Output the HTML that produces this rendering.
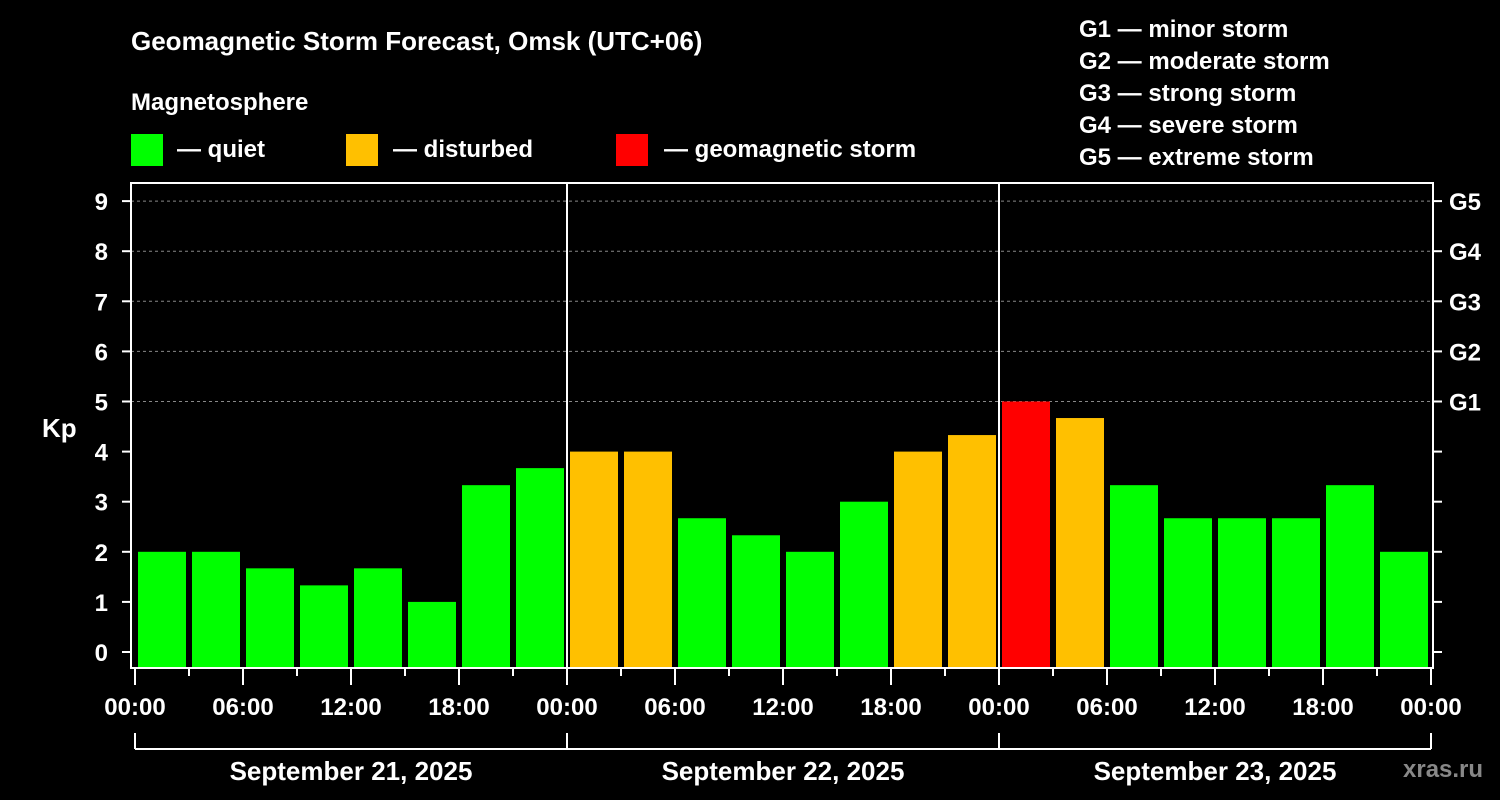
<!DOCTYPE html>
<html><head><meta charset="utf-8"><style>
html,body{margin:0;padding:0;background:#000;}
svg{display:block;font-family:"Liberation Sans",Arial,sans-serif;font-weight:bold;}
</style></head><body>
<svg id="chart" width="1500" height="800" xmlns="http://www.w3.org/2000/svg">
<text x="131" y="50" fill="#fff" font-size="26">Geomagnetic Storm Forecast, Omsk (UTC+06)</text>
<text x="131" y="110" fill="#fff" font-size="24">Magnetosphere</text>
<g><rect x="131" y="134" width="32" height="32" fill="#00ff00"/><text x="177" y="157" fill="#fff" font-size="24">— quiet</text></g>
<g><rect x="346" y="134" width="32" height="32" fill="#ffc000"/><text x="393" y="157" fill="#fff" font-size="24">— disturbed</text></g>
<g><rect x="616" y="134" width="32" height="32" fill="#ff0000"/><text x="664" y="157" fill="#fff" font-size="24">— geomagnetic storm</text></g>
<g fill="#fff" font-size="24">
<text x="1079" y="37">G1 — minor storm</text><text x="1079" y="69">G2 — moderate storm</text><text x="1079" y="101">G3 — strong storm</text><text x="1079" y="133">G4 — severe storm</text><text x="1079" y="165">G5 — extreme storm</text>
</g>
<text x="42" y="437" fill="#fff" font-size="26">Kp</text>
<text x="1403" y="777" fill="#888" font-size="24">xras.ru</text>
<g id="grid"></g><g id="bars"></g><g id="axes"></g>
</svg>
<script>
const kpValues=[2,2,1.67,1.33,1.67,1,3.33,3.67, 4,4,2.67,2.33,2,3,4,4.33, 5,4.67,3.33,2.67,2.67,2.67,3.33,2];
const dayLabels=["September 21, 2025","September 22, 2025","September 23, 2025"];
const hourLabels=["00:00","06:00","12:00","18:00"];
const yTicks=[0,1,2,3,4,5,6,7,8,9];
const gLabels=["G1","G2","G3","G4","G5"];
const NS="http://www.w3.org/2000/svg";
const X0=135,DAYW=432,TOP=183,BOT=668,LEFT=131,RIGHT=1433;
const yScale=v=>652-v*50.1;
const xScale=i=>X0+i*(DAYW/8);
function mk(tag,attrs,parent,txt){const e=document.createElementNS(NS,tag);for(const k in attrs)e.setAttribute(k,attrs[k]);if(txt!==undefined)e.textContent=txt;parent.appendChild(e);return e;}
const grid=document.getElementById('grid'),bars=document.getElementById('bars'),axes=document.getElementById('axes');
yTicks.forEach(v=>{
 if(v>=5){const l=mk('line',{x1:LEFT,x2:RIGHT,y1:yScale(v),y2:yScale(v),stroke:'#888','stroke-dasharray':'3,3','stroke-width':1},grid);
 
 }
 mk('line',{x1:122,x2:LEFT,y1:yScale(v),y2:yScale(v),stroke:'#fff','stroke-width':2},axes);
 mk('line',{x1:RIGHT,x2:1442,y1:yScale(v),y2:yScale(v),stroke:'#fff','stroke-width':2},axes);
 const t=mk('text',{x:108,y:yScale(v)+9,fill:'#fff','font-size':24,'text-anchor':'end'},axes,String(v));
 
 
});
gLabels.forEach((g,i)=>{const t=mk('text',{x:1449,y:yScale(5+i)+9,fill:'#fff','font-size':24},axes,g);
 
 });
kpValues.forEach((v,i)=>{
 const c=v>=5?'#ff0000':(v>=4?'#ffc000':'#00ff00');
 const y=yScale(v);
 const r=mk('rect',{x:xScale(i)+3,y:y,width:48,height:BOT-y,fill:c},bars);
 
 
});
const frame=mk('rect',{x:LEFT,y:TOP,width:RIGHT-LEFT,height:BOT-TOP,fill:'none',stroke:'#fff','stroke-width':2},axes);


for(let d=1;d<3;d++)mk('line',{x1:X0+d*DAYW,x2:X0+d*DAYW,y1:TOP,y2:BOT,stroke:'#fff','stroke-width':2},axes);
for(let i=0;i<=24;i++){
 const x=xScale(i),major=i%2==0;
 mk('line',{x1:x,x2:x,y1:BOT,y2:BOT+(major?17:8),stroke:'#fff','stroke-width':2},axes);
 if(major){const t=mk('text',{x:x,y:715,fill:'#fff','font-size':24,'text-anchor':'middle'},axes,hourLabels[(i/2)%4]);
  
  }
}
mk('line',{x1:X0,x2:X0+3*DAYW,y1:749,y2:749,stroke:'#fff','stroke-width':2},axes);
for(let d=0;d<=3;d++)mk('line',{x1:X0+d*DAYW,x2:X0+d*DAYW,y1:733,y2:749,stroke:'#fff','stroke-width':2},axes);
dayLabels.forEach((s,d)=>{const t=mk('text',{x:X0+d*DAYW+DAYW/2,y:780,fill:'#fff','font-size':26,'text-anchor':'middle'},axes,s);
 
 });
</script>
</body></html>
